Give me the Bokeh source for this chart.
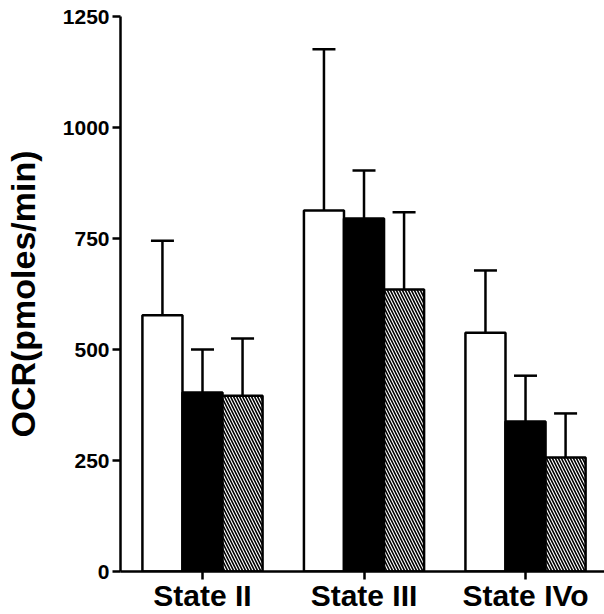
from bokeh.plotting import figure
from bokeh.models import ColumnDataSource, Range1d, FixedTicker, Whisker, TeeHead
from bokeh.embed import file_html
from bokeh.resources import INLINE

categories = ["State II", "State III", "State IVo"]
white_means = [577, 813, 538]
white_err_top = [745, 1176, 678]
black_means = [403, 795, 338]
black_err_top = [500, 903, 441]
hatch_means = [396, 635, 257]
hatch_err_top = [525, 809, 356]
y_ticks = [0, 250, 500, 750, 1000, 1250]

FONT = "Liberation Sans"
cat_pos = [i + 1 for i in range(len(categories))]
bar_w = 0.248

p = figure(width=604, height=614, output_backend="svg", toolbar_location=None,
           x_range=Range1d(0.4923, 3.489), y_range=Range1d(0, 1250),
           min_border_left=120, min_border_right=0, min_border_top=16, min_border_bottom=42)
p.outline_line_color = None
p.grid.grid_line_color = None
p.background_fill_color = "white"
p.border_fill_color = "white"

series = [
    (white_means, white_err_top, -bar_w, dict(fill_color="white")),
    (black_means, black_err_top, 0.0, dict(fill_color="black")),
    (hatch_means, hatch_err_top, bar_w, dict(fill_color="white", hatch_pattern="left_diagonal_line",
                                             hatch_color="black", hatch_scale=6, hatch_weight=1.6)),
]

for means, tops, off, style in series:
    src = ColumnDataSource(dict(x=[c + off for c in cat_pos], top=means, err=tops))
    p.vbar(x="x", top="top", width=bar_w, source=src, line_color="black", line_width=2.5, **style)
    w = Whisker(source=src, base="x", lower="top", upper="err", dimension="height",
                line_color="black", line_width=2.5,
                upper_head=TeeHead(size=23, line_color="black", line_width=2.5), lower_head=None)
    p.add_layout(w)

# axes
for ax in (p.xaxis[0], p.yaxis[0]):
    ax.axis_line_width = 2.5
    ax.axis_line_color = "black"
    ax.major_tick_line_width = 2.5
    ax.major_tick_line_color = "black"
    ax.major_tick_out = 8
    ax.major_tick_in = 0
    ax.minor_tick_line_color = None

p.yaxis.ticker = FixedTicker(ticks=y_ticks)
p.yaxis.major_label_text_font = FONT
p.yaxis.major_label_text_font_style = "bold"
p.yaxis.major_label_text_font_size = "21px"
p.yaxis.major_label_text_color = "black"
p.yaxis.major_label_standoff = 3
p.yaxis.axis_label = "OCR(pmoles/min)"
p.yaxis.axis_label_text_font = FONT
p.yaxis.axis_label_text_font_style = "bold"
p.yaxis.axis_label_text_font_size = "34px"
p.yaxis.axis_label_text_color = "black"
p.yaxis.axis_label_standoff = 18

p.xaxis.ticker = FixedTicker(ticks=cat_pos)
p.xaxis.major_label_overrides = {c: name for c, name in zip(cat_pos, categories)}
p.xaxis.major_label_text_font = FONT
p.xaxis.major_label_text_font_style = "bold"
p.xaxis.major_label_text_font_size = "30px"
p.xaxis.major_label_text_color = "black"
p.xaxis.major_label_standoff = -1

open("out.html", "w").write(file_html(p, INLINE))
